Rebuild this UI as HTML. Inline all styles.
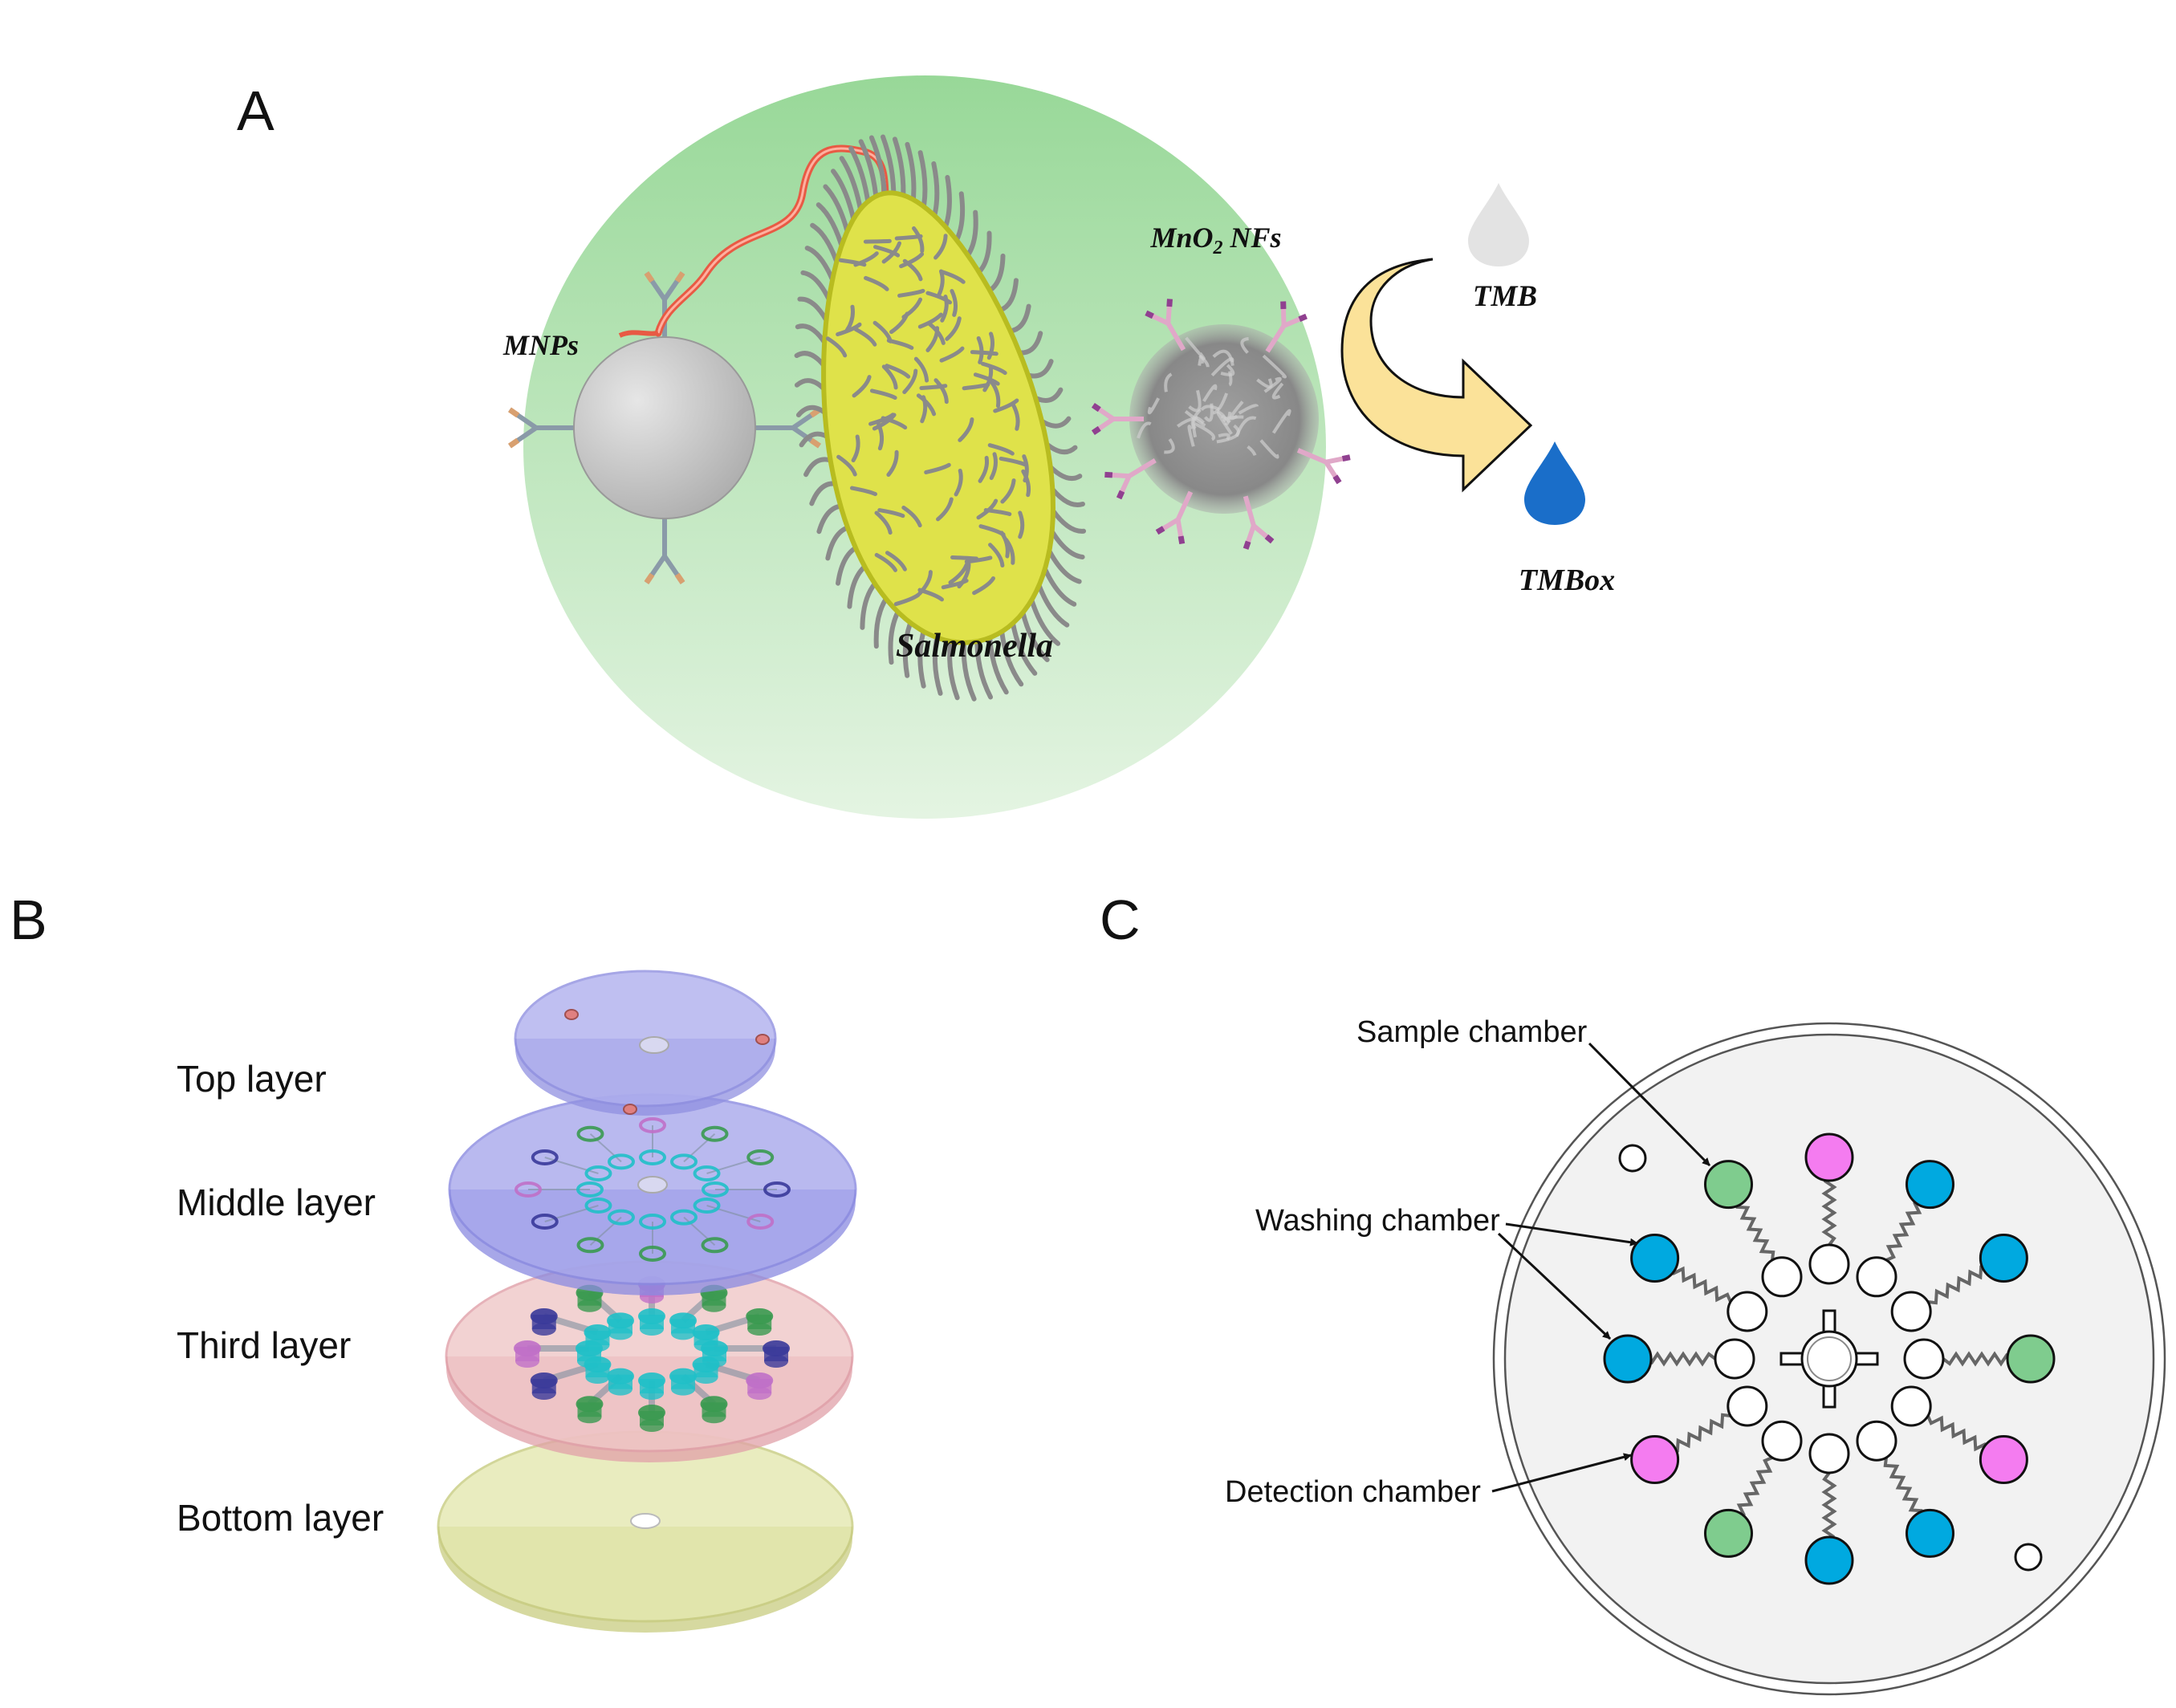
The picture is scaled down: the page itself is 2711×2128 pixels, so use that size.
<!DOCTYPE html>
<html><head><meta charset="utf-8"><style>
html,body{margin:0;padding:0;background:#fff;}
svg{display:block;}
.lab{font-family:"Liberation Serif",serif;font-weight:bold;font-style:italic;fill:#111;}
.sans{font-family:"Liberation Sans",sans-serif;fill:#111;}
</style></head><body>
<svg id="s" width="2711" height="2128" viewBox="0 0 2711 2128" xmlns="http://www.w3.org/2000/svg">
<defs>
<linearGradient id="gg" x1="0" y1="0" x2="0" y2="1"><stop offset="0" stop-color="#98d898"/><stop offset="1" stop-color="#e4f4e2"/></linearGradient>
<radialGradient id="mnp" cx="0.35" cy="0.35" r="0.8"><stop offset="0" stop-color="#e6e6e6"/><stop offset="1" stop-color="#a8a8a8"/></radialGradient>
<radialGradient id="mno" cx="0.5" cy="0.5" r="0.5"><stop offset="0" stop-color="#a0a0a0"/><stop offset="0.8" stop-color="#888"/><stop offset="1" stop-color="#aaa" stop-opacity="0.5"/></radialGradient>
<marker id="ah" markerWidth="10" markerHeight="10" refX="9" refY="5" orient="auto" markerUnits="userSpaceOnUse" viewBox="0 0 10 10"><path d="M0,0 L10,5 L0,10 Z" fill="#111"/></marker>
</defs>
<text x="295" y="162" class="sans" font-size="70">A</text>
<ellipse cx="1152" cy="557" rx="500" ry="463" fill="url(#gg)"/>
<g id="ab"></g>
<circle cx="828" cy="533" r="113" fill="url(#mnp)" stroke="#999" stroke-width="2"/>
<path d="M820,415 C830,380 860,370 880,340 C920,280 990,300 1000,240 C1010,180 1040,180 1080,190 C1110,200 1100,240 1105,290" fill="none" stroke="#e85a44" stroke-width="9" stroke-linecap="round"/>
<path d="M820,415 C830,380 860,370 880,340 C920,280 990,300 1000,240 C1010,180 1040,180 1080,190 C1110,200 1100,240 1105,290" fill="none" stroke="#ffb0a0" stroke-width="3"/>
<path d="M772,418 C790,410 805,418 820,415" fill="none" stroke="#e85a44" stroke-width="6"/>
<g id="hairs"></g>
<path id="bact" d="" fill="#dfe24a" stroke="#b8bc20" stroke-width="6"/>
<g id="hairs2"></g>
<circle cx="1525" cy="522" r="118" fill="url(#mno)"/>
<g id="mnolines"></g>
<text x="674" y="442" class="lab" font-size="36" text-anchor="middle">MNPs</text>
<text x="1515" y="308" class="lab" font-size="36" text-anchor="middle">MnO<tspan font-size="24" dy="8">2</tspan><tspan dy="-8"> NFs</tspan></text>
<text x="1214" y="818" class="lab" font-size="42" text-anchor="middle">Salmonella</text>
<path d="M1785,323 C1700,330 1672,380 1672,437 C1672,520 1740,568 1823,568 L1823,610 L1907,530 L1823,450 L1823,495 C1760,495 1708,460 1708,400 C1708,360 1740,330 1785,323 Z" fill="#fbe299" stroke="#111" stroke-width="3"/>
<path d="M1867,228 C1880,255 1905,280 1905,300 C1905,320 1888,332 1867,332 C1846,332 1829,320 1829,300 C1829,280 1854,255 1867,228 Z" fill="#e3e3e3"/>
<text x="1875" y="381" class="lab" font-size="37" text-anchor="middle">TMB</text>
<path d="M1937,550 C1950,577 1975,602 1975,622 C1975,642 1958,654 1937,654 C1916,654 1899,642 1899,622 C1899,602 1924,577 1937,550 Z" fill="#1a6ec9"/>
<text x="1952" y="735" class="lab" font-size="38" text-anchor="middle">TMBox</text>

<text x="12" y="1170" class="sans" font-size="70">B</text>
<text x="220" y="1360" class="sans" font-size="46">Top layer</text>
<text x="220" y="1514" class="sans" font-size="46">Middle layer</text>
<text x="220" y="1692" class="sans" font-size="46">Third layer</text>
<text x="220" y="1907" class="sans" font-size="46">Bottom layer</text>
<g id="B"></g>

<text x="1370" y="1170" class="sans" font-size="70">C</text>
<circle cx="2279" cy="1693" r="418" fill="#fff" stroke="#555" stroke-width="2.5"/>
<circle cx="2279" cy="1693" r="404" fill="#f2f2f2" stroke="#555" stroke-width="2.5"/>
<g id="C"></g>
<text x="1690" y="1298" class="sans" font-size="38">Sample chamber</text>
<text x="1564" y="1533" class="sans" font-size="38">Washing chamber</text>
<text x="1526" y="1871" class="sans" font-size="38">Detection chamber</text>
<line x1="1980" y1="1300" x2="2130" y2="1452" stroke="#111" stroke-width="3" marker-end="url(#ah)"/>
<line x1="1876" y1="1525" x2="2040" y2="1549" stroke="#111" stroke-width="3" marker-end="url(#ah)"/>
<line x1="1867" y1="1537" x2="2006" y2="1668" stroke="#111" stroke-width="3" marker-end="url(#ah)"/>
<line x1="1859" y1="1858" x2="2032" y2="1813" stroke="#111" stroke-width="3" marker-end="url(#ah)"/>
</svg>
<script>
var NS="http://www.w3.org/2000/svg";
function el(p,t,a){var e=document.createElementNS(NS,t);for(var k in a)e.setAttribute(k,a[k]);document.getElementById(p).appendChild(e);return e;}
function ab(g,x,y,ang,col,tip,len){
 var c=Math.cos(ang),s=Math.sin(ang);
 var ex=x+c*len,ey=y+s*len;
 el(g,"line",{x1:x,y1:y,x2:ex,y2:ey,stroke:col,"stroke-width":6});
 [0.6,-0.6].forEach(function(d){var a2=ang+d;var fx=ex+Math.cos(a2)*len*0.8,fy=ey+Math.sin(a2)*len*0.8;
  el(g,"line",{x1:ex,y1:ey,x2:fx,y2:fy,stroke:col,"stroke-width":6});
  el(g,"line",{x1:ex+Math.cos(a2)*len*0.55,y1:ey+Math.sin(a2)*len*0.55,x2:fx,y2:fy,stroke:tip,"stroke-width":7});});
}
var P=Math.PI;
[P,-P/2,P/2,0].forEach(function(a){ab("ab",828+Math.cos(a)*110,533+Math.sin(a)*110,a,"#8a9aa8","#d8a070",50);});
[[P,145],[-2.1,120],[-1.0,125],[0.4,125],[2.0,125],[1.3,125],[2.6,120]].forEach(function(a){ab("mnolines",1525+Math.cos(a[0])*100,522+Math.sin(a[0])*100,a[0],"#e0a8c8","#904090",38);});
for(var i=0;i<40;i++){var a=Math.random()*2*P,r=Math.random()*95;var x=1525+Math.cos(a)*r,y=522+Math.sin(a)*r;
 el("mnolines","path",{d:"M"+x+","+y+" q"+(Math.random()*40-20)+","+(Math.random()*40-20)+" "+(Math.random()*50-25)+","+(Math.random()*50-25),fill:"none",stroke:"#cfcfcf","stroke-width":4,opacity:0.7});}
var cx=1160,cy=520,rot=-12*P/180;
function pt(t,sc){var c=Math.cos(t),s=Math.sin(t);var rx=132+25*s,ry=285;
 var x=c*rx*sc,y=s*ry*sc;return [cx+x*Math.cos(rot)-y*Math.sin(rot),cy+x*Math.sin(rot)+y*Math.cos(rot)];}
var d="";for(var i=0;i<=120;i++){var p=pt(i/120*2*P,1);d+=(i?"L":"M")+p[0].toFixed(1)+","+p[1].toFixed(1);}
document.getElementById("bact").setAttribute("d",d+"Z");
for(var i=0;i<60;i++){var t=i/60*2*P;var a=pt(t,0.97),b=pt(t,1.25),m=pt(t+0.06,1.12);
 el("hairs","path",{d:"M"+a[0]+","+a[1]+" Q"+m[0]+","+m[1]+" "+b[0]+","+b[1],fill:"none",stroke:"#8a8a8a","stroke-width":6,"stroke-linecap":"round"});}
for(var i=0;i<90;i++){var t=Math.random()*2*P,sc=Math.sqrt(Math.random())*0.85;var a=pt(t,sc);var dd=Math.random()*2*P;
 el("hairs2","path",{d:"M"+a[0]+","+a[1]+" q"+(Math.cos(dd)*14+6)+","+(Math.sin(dd)*14)+" "+(Math.cos(dd)*30)+","+(Math.sin(dd)*30),fill:"none",stroke:"#8a8a8a","stroke-width":5,"stroke-linecap":"round"});}
function disc(cx,cy,rx,ry,th,fill,edge){
 el("B","path",{d:"M"+(cx-rx)+","+cy+" L"+(cx-rx)+","+(cy+th)+" A"+rx+","+ry+" 0 0 0 "+(cx+rx)+","+(cy+th)+" L"+(cx+rx)+","+cy+" Z",fill:edge,opacity:0.75});
 el("B","ellipse",{cx:cx,cy:cy,rx:rx,ry:ry,fill:fill,stroke:edge,"stroke-width":3,opacity:0.8});
}
function rings(cx,cy,h){
 var cols=["#c070c8","#3a9a50","#3a9a50","#3a3a9a","#c070c8","#3a9a50","#3a9a50","#3a9a50","#3a3a9a","#c070c8","#3a3a9a","#3a9a50"];
 for(var i=0;i<12;i++){var a=-P/2+i*P/6;
  var ox=cx+Math.cos(a)*155,oy=cy+Math.sin(a)*80,ix=cx+Math.cos(a)*78,iy=cy+Math.sin(a)*40;
  el("B","line",{x1:ix,y1:iy,x2:ox,y2:oy,stroke:"#8090a0","stroke-width":h?8:2,opacity:0.6});
  [[ix,iy,"#20c0c8"],[ox,oy,cols[i]]].forEach(function(q){
   if(h){el("B","rect",{x:q[0]-15,y:q[1]-2,width:30,height:h,fill:q[2],opacity:0.8});el("B","ellipse",{cx:q[0],cy:q[1]+h-2,rx:15,ry:8,fill:q[2],opacity:0.8});}
   el("B","ellipse",{cx:q[0],cy:q[1],rx:15,ry:8,fill:h?q[2]:"none",stroke:q[2],"stroke-width":4,opacity:0.9});});
 }
}
disc(804,1902,258,118,14,"#e4e8b0","#c8cc80");
el("B","ellipse",{cx:804,cy:1895,rx:18,ry:9,fill:"#fff",stroke:"#bbb","stroke-width":2});
disc(809,1690,253,118,14,"#f0c8c8","#e0a0a8");
rings(812,1680,18);
disc(813,1482,253,118,14,"#a8a8ec","#8a8ae0");
rings(813,1482,0);
el("B","ellipse",{cx:813,cy:1476,rx:18,ry:10,fill:"#d8d8f0",stroke:"#aaa","stroke-width":2});
disc(804,1294,162,84,12,"#b0b0ee","#9090e0");
el("B","ellipse",{cx:815,cy:1302,rx:18,ry:10,fill:"#d8d8f0",stroke:"#aaa","stroke-width":2});
[[712,1264],[950,1295],[785,1382]].forEach(function(q){el("B","ellipse",{cx:q[0],cy:q[1],rx:8,ry:6,fill:"#e08080",stroke:"#a05050","stroke-width":2});});
var X=2279,Y=1693;
var oc=["#f47cf0","#00a9e0","#00a9e0","#7fcc8e","#f47cf0","#00a9e0","#00a9e0","#7fcc8e","#f47cf0","#00a9e0","#00a9e0","#7fcc8e"];
for(var i=0;i<12;i++){var a=-P/2+i*P/6,c=Math.cos(a),s=Math.sin(a);
 var x1=X+c*142,y1=Y+s*142,x2=X+c*222,y2=Y+s*222,d="M"+x1+","+y1;
 for(var k=1;k<=10;k++){var f=k/10,w=(k%2?6:-6);d+=" L"+(x1+(x2-x1)*f-s*w)+","+(y1+(y2-y1)*f+c*w);}
 el("C","path",{d:d,fill:"none",stroke:"#666","stroke-width":4});
 el("C","circle",{cx:X+c*118,cy:Y+s*118,r:24,fill:"#fff",stroke:"#111","stroke-width":3});
 el("C","circle",{cx:X+c*251,cy:Y+s*251,r:29,fill:oc[i],stroke:"#111","stroke-width":3});
}
el("C","rect",{x:X-60,y:Y-7,width:120,height:14,fill:"#fff",stroke:"#111","stroke-width":3});
el("C","rect",{x:X-7,y:Y-60,width:14,height:120,fill:"#fff",stroke:"#111","stroke-width":3});
el("C","circle",{cx:X,cy:Y,r:34,fill:"#fff",stroke:"#111","stroke-width":3});
el("C","circle",{cx:X,cy:Y,r:27,fill:"#fff",stroke:"#888","stroke-width":2});
el("C","circle",{cx:X-245,cy:Y-250,r:16,fill:"#fff",stroke:"#111","stroke-width":3});
el("C","circle",{cx:X+248,cy:Y+247,r:16,fill:"#fff",stroke:"#111","stroke-width":3});
</script>
</body></html>
